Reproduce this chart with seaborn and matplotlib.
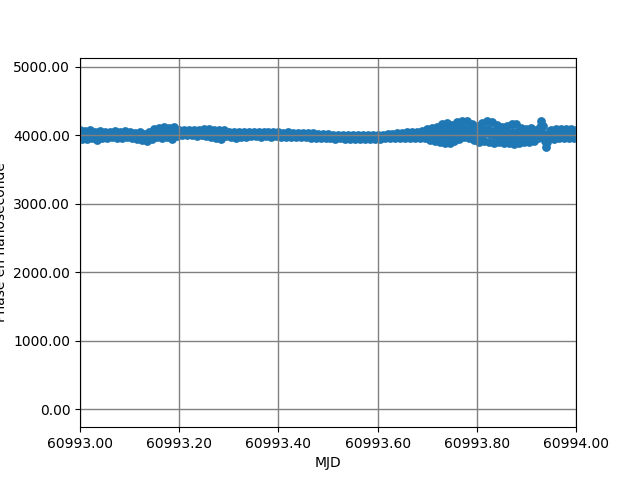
import matplotlib
matplotlib.use("Agg")
import numpy as np
import matplotlib.pyplot as plt
import seaborn as sns
from matplotlib.ticker import FormatStrFormatter

mjd_start = 60993.0

# time offsets (days) since mjd_start
day_offset = [
    0.0000, 0.0025, 0.0050, 0.0075, 0.0100, 0.0125, 0.0150, 0.0175, 0.0200, 0.0225,
    0.0250, 0.0275, 0.0300, 0.0325, 0.0350, 0.0375, 0.0400, 0.0425, 0.0450, 0.0475,
    0.0500, 0.0525, 0.0550, 0.0575, 0.0600, 0.0625, 0.0650, 0.0675, 0.0700, 0.0725,
    0.0750, 0.0775, 0.0800, 0.0825, 0.0850, 0.0875, 0.0900, 0.0925, 0.0950, 0.0975,
    0.1000, 0.1025, 0.1050, 0.1075, 0.1100, 0.1125, 0.1150, 0.1175, 0.1200, 0.1225,
    0.1250, 0.1275, 0.1300, 0.1325, 0.1350, 0.1375, 0.1400, 0.1425, 0.1450, 0.1475,
    0.1500, 0.1525, 0.1550, 0.1575, 0.1600, 0.1625, 0.1650, 0.1675, 0.1700, 0.1725,
    0.1750, 0.1775, 0.1800, 0.1825, 0.1850, 0.1875, 0.1900, 0.1925, 0.1950, 0.1975,
    0.2000, 0.2025, 0.2050, 0.2075, 0.2100, 0.2125, 0.2150, 0.2175, 0.2200, 0.2225,
    0.2250, 0.2275, 0.2300, 0.2325, 0.2350, 0.2375, 0.2400, 0.2425, 0.2450, 0.2475,
    0.2500, 0.2525, 0.2550, 0.2575, 0.2600, 0.2625, 0.2650, 0.2675, 0.2700, 0.2725,
    0.2750, 0.2775, 0.2800, 0.2825, 0.2850, 0.2875, 0.2900, 0.2925, 0.2950, 0.2975,
    0.3000, 0.3025, 0.3050, 0.3075, 0.3100, 0.3125, 0.3150, 0.3175, 0.3200, 0.3225,
    0.3250, 0.3275, 0.3300, 0.3325, 0.3350, 0.3375, 0.3400, 0.3425, 0.3450, 0.3475,
    0.3500, 0.3525, 0.3550, 0.3575, 0.3600, 0.3625, 0.3650, 0.3675, 0.3700, 0.3725,
    0.3750, 0.3775, 0.3800, 0.3825, 0.3850, 0.3875, 0.3900, 0.3925, 0.3950, 0.3975,
    0.4000, 0.4025, 0.4050, 0.4075, 0.4100, 0.4125, 0.4150, 0.4175, 0.4200, 0.4225,
    0.4250, 0.4275, 0.4300, 0.4325, 0.4350, 0.4375, 0.4400, 0.4425, 0.4450, 0.4475,
    0.4500, 0.4525, 0.4550, 0.4575, 0.4600, 0.4625, 0.4650, 0.4675, 0.4700, 0.4725,
    0.4750, 0.4775, 0.4800, 0.4825, 0.4850, 0.4875, 0.4900, 0.4925, 0.4950, 0.4975,
    0.5000, 0.5025, 0.5050, 0.5075, 0.5100, 0.5125, 0.5150, 0.5175, 0.5200, 0.5225,
    0.5250, 0.5275, 0.5300, 0.5325, 0.5350, 0.5375, 0.5400, 0.5425, 0.5450, 0.5475,
    0.5500, 0.5525, 0.5550, 0.5575, 0.5600, 0.5625, 0.5650, 0.5675, 0.5700, 0.5725,
    0.5750, 0.5775, 0.5800, 0.5825, 0.5850, 0.5875, 0.5900, 0.5925, 0.5950, 0.5975,
    0.6000, 0.6025, 0.6050, 0.6075, 0.6100, 0.6125, 0.6150, 0.6175, 0.6200, 0.6225,
    0.6250, 0.6275, 0.6300, 0.6325, 0.6350, 0.6375, 0.6400, 0.6425, 0.6450, 0.6475,
    0.6500, 0.6525, 0.6550, 0.6575, 0.6600, 0.6625, 0.6650, 0.6675, 0.6700, 0.6725,
    0.6750, 0.6775, 0.6800, 0.6825, 0.6850, 0.6875, 0.6900, 0.6925, 0.6950, 0.6975,
    0.7000, 0.7025, 0.7050, 0.7075, 0.7100, 0.7125, 0.7150, 0.7175, 0.7200, 0.7225,
    0.7250, 0.7275, 0.7300, 0.7325, 0.7350, 0.7375, 0.7400, 0.7425, 0.7450, 0.7475,
    0.7500, 0.7525, 0.7550, 0.7575, 0.7600, 0.7625, 0.7650, 0.7675, 0.7700, 0.7725,
    0.7750, 0.7775, 0.7800, 0.7825, 0.7850, 0.7875, 0.7900, 0.7925, 0.7950, 0.7975,
    0.8000, 0.8025, 0.8050, 0.8075, 0.8100, 0.8125, 0.8150, 0.8175, 0.8200, 0.8225,
    0.8250, 0.8275, 0.8300, 0.8325, 0.8350, 0.8375, 0.8400, 0.8425, 0.8450, 0.8475,
    0.8500, 0.8525, 0.8550, 0.8575, 0.8600, 0.8625, 0.8650, 0.8675, 0.8700, 0.8725,
    0.8750, 0.8775, 0.8800, 0.8825, 0.8850, 0.8875, 0.8900, 0.8925, 0.8950, 0.8975,
    0.9000, 0.9025, 0.9050, 0.9075, 0.9100, 0.9125, 0.9150, 0.9175, 0.9200, 0.9225,
    0.9250, 0.9275, 0.9300, 0.9325, 0.9350, 0.9375, 0.9400, 0.9425, 0.9450, 0.9475,
    0.9500, 0.9525, 0.9550, 0.9575, 0.9600, 0.9625, 0.9650, 0.9675, 0.9700, 0.9725,
    0.9750, 0.9775, 0.9800, 0.9825, 0.9850, 0.9875, 0.9900, 0.9925, 0.9950, 0.9975,
    1.0000,
]

# phase in nanoseconds
phase_ns = [
    4070, 4000, 3940, 3990, 4060, 4010, 3950, 4000, 4080, 4020,
    3960, 3990, 4050, 4000, 3930, 3980, 4060, 4010, 3960, 4000,
    4050, 4000, 3960, 3990, 4040, 4010, 3970, 4000, 4060, 4020,
    3965, 3995, 4050, 4005, 3960, 3990, 4055, 4010, 3970, 4000,
    4040, 4000, 3960, 3990, 4030, 4000, 3950, 3985, 4040, 3990,
    3935, 3975, 4020, 3980, 3920, 3970, 4050, 4010, 3950, 4000,
    4090, 4030, 3970, 4020, 4110, 4040, 3960, 4030, 4120, 4050,
    3980, 4030, 4100, 4040, 3950, 4010, 4115, 4050, 3985, 4030,
    4070, 4030, 3995, 4030, 4075, 4040, 4000, 4035, 4080, 4040,
    4005, 4040, 4070, 4030, 3990, 4030, 4080, 4040, 4000, 4035,
    4085, 4040, 3990, 4030, 4090, 4040, 3980, 4020, 4080, 4010,
    3960, 4000, 4070, 4000, 3950, 4000, 4080, 4040, 3990, 4030,
    4050, 4010, 3975, 4000, 4045, 4000, 3960, 3995, 4045, 4010,
    3980, 4010, 4050, 4015, 3980, 4010, 4050, 4015, 3985, 4015,
    4045, 4015, 3985, 4015, 4050, 4015, 3980, 4010, 4045, 4015,
    3985, 4015, 4045, 4010, 3980, 4010, 4045, 4015, 3985, 4010,
    4040, 4010, 3980, 4005, 4035, 4005, 3975, 4005, 4040, 4010,
    3980, 4005, 4035, 4005, 3975, 4000, 4035, 4005, 3975, 4000,
    4030, 4000, 3970, 3995, 4025, 3995, 3965, 3995, 4025, 3995,
    3965, 3990, 4020, 3990, 3960, 3990, 4020, 3990, 3960, 3985,
    4010, 3985, 3955, 3980, 4005, 3980, 3950, 3980, 4005, 3980,
    3955, 3975, 4000, 3975, 3950, 3975, 4005, 3980, 3950, 3975,
    4000, 3975, 3950, 3970, 3995, 3970, 3945, 3970, 4000, 3975,
    3950, 3970, 3995, 3970, 3945, 3970, 4000, 3975, 3950, 3975,
    4000, 3975, 3950, 3975, 4005, 3980, 3955, 3980, 4010, 3985,
    3955, 3985, 4020, 3990, 3960, 3990, 4030, 4000, 3965, 3995,
    4035, 4000, 3965, 4000, 4045, 4005, 3960, 3995, 4040, 4000,
    3955, 3995, 4050, 4010, 3965, 4005, 4055, 4005, 3960, 4000,
    4090, 4010, 3930, 3990, 4100, 4020, 3920, 3990, 4120, 4030,
    3900, 4000, 4160, 4060, 3890, 3990, 4180, 4080, 3880, 3980,
    4150, 4060, 3920, 4000, 4190, 4090, 3950, 4050, 4210, 4100,
    3970, 4060, 4200, 4090, 3960, 4040, 4170, 4070, 3930, 4010,
    4140, 4040, 3900, 4000, 4180, 4070, 3920, 4030, 4210, 4090,
    3900, 4010, 4190, 4060, 3890, 3990, 4150, 4040, 3900, 3990,
    4120, 4020, 3890, 3990, 4140, 4030, 3880, 3990, 4160, 4050,
    3875, 3980, 4165, 4040, 3890, 3980, 4110, 4010, 3895, 3980,
    4090, 4000, 3900, 3980, 4100, 4000, 3910, 3990, 4080, 3960,
    4000, 4120, 4210, 4130, 4010, 3920, 3830, 3900, 4000, 4060,
    4080, 4010, 3950, 4000, 4090, 4020, 3960, 4010, 4085, 4020,
    3955, 4005, 4090, 4020, 3960, 4010, 4095, 4030, 3965, 4010,
    4080,
]

x_ticks = [60993.0, 60993.2, 60993.4, 60993.6, 60993.8, 60994.0]
y_ticks = [0, 1000, 2000, 3000, 4000, 5000]

mjd = mjd_start + np.array(day_offset)

fig, ax = plt.subplots(figsize=(6.4, 4.8), dpi=100)
sns.scatterplot(x=mjd, y=phase_ns, ax=ax, s=40, color='#1f77b4', linewidth=0)

ax.set_xlim(60993.0, 60994.0)
ax.set_ylim(-263, 5132)
ax.set_xticks(x_ticks)
ax.set_yticks(y_ticks)
ax.xaxis.set_major_formatter(FormatStrFormatter('%.2f'))
ax.yaxis.set_major_formatter(FormatStrFormatter('%.2f'))
ax.grid(True, color='gray', linewidth=1.0)
ax.set_xlabel('MJD')
ax.set_ylabel('Phase en nanoseconde')

fig.savefig('out.png', dpi=100)
